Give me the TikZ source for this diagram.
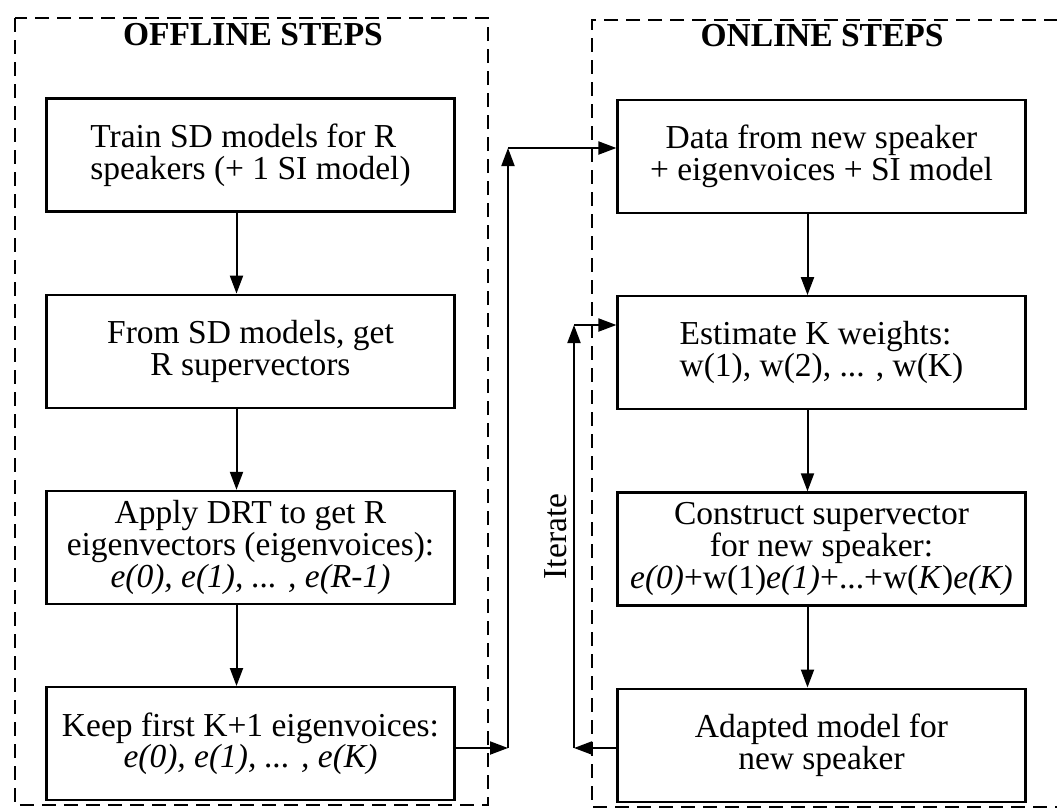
\documentclass[tikz,border=0pt]{standalone}
\usepackage{fontspec}
\setmainfont{Liberation Serif}
\usetikzlibrary{arrows.meta}
\usetikzlibrary{positioning}

\begin{document}
\begin{tikzpicture}[x=0.5pt, y=-0.5pt]
        \tikzset{
          >={Triangle[length=9pt, width=6.5pt]},
          node distance=40.5pt,
          every node/.style={font=\fontsize{16.75}{15.8}\selectfont},
          stepbox/.style={
            draw,
            line width=1.1pt,
            inner sep=2pt,
            minimum width=204pt,
            minimum height=56.5pt,
            align=center,
          },
          frame/.style={draw, line width=0.9pt, dash pattern=on 7pt off 4pt},
          flow/.style={->, line width=1pt},
        }
        \useasboundingbox (0,0) rectangle (1057,811);
        \fill[white] (0,0) rectangle (1057,811);

        % dashed frames and their titles
        \draw[frame] (15,18) rectangle (488,805);
        \draw[frame] (1080,20) -- (592,20) -- (592,807) -- (1080,807);
        \node[anchor=base, font=\bfseries\fontsize{16.75}{15.8}\selectfont] (offtitle) at (253,45) {OFFLINE STEPS};
        \node[anchor=base, font=\bfseries\fontsize{16.75}{15.8}\selectfont] (ontitle) at (822,46) {ONLINE STEPS};

        % offline steps
        \node[stepbox, align=left] (off1) at (250.5,155) {Train SD models for R\\speakers (+ 1 SI model)};
        \node[stepbox, below=of off1] (off2) {From SD models, get\\R supervectors};
        \node[stepbox, below=of off2] (off3) {Apply DRT to get R\\eigenvectors (eigenvoices):\\\textit{e(0), e(1), ... , e(R-1)}};
        \node[stepbox, below=of off3] (off4) {Keep first K+1 eigenvoices:\\\textit{e(0), e(1), ... , e(K)}};

        % online steps
        \node[stepbox] (on1) at (821.5,156.5) {Data from new speaker\\+ eigenvoices + SI model};
        \node[stepbox, align=left, below=of on1] (on2) {Estimate K weights:\\w(1), w(2), ... , w(K)};
        \node[stepbox, below=of on2] (on3) {Construct supervector\\for new speaker:\\\textit{e(0)}+w(1)\textit{e(1)}+...+w(\textit{K})\textit{e(K)}};
        \node[stepbox, below=of on3] (on4) {Adapted model for\\new speaker};

        \foreach \a/\b in {off1/off2, off2/off3, off3/off4, on1/on2, on2/on3, on3/on4}
          \draw[flow] ([xshift=-7pt]\a.south) -- ([xshift=-7pt]\b.north);

        % offline -> online
        \coordinate (c1) at (508,748);
        \coordinate (c2) at (508,148);
        \draw[flow] (off4.east |- c1) -- (c1);
        \draw[flow] (c1) -- (c2);
        \draw[flow] (c2) -- (c2 -| on1.west);

        % iteration loop
        \coordinate (c3) at (574,748);
        \coordinate (c4) at (574,325);
        \draw[flow] (on4.west |- c3) -- (c3);
        \draw[flow] (c3) -- node[midway, above, sloped] (iter) {Iterate} (c4);
        \draw[flow] (c4) -- (c4 -| on2.west);
\end{tikzpicture}
\end{document}
